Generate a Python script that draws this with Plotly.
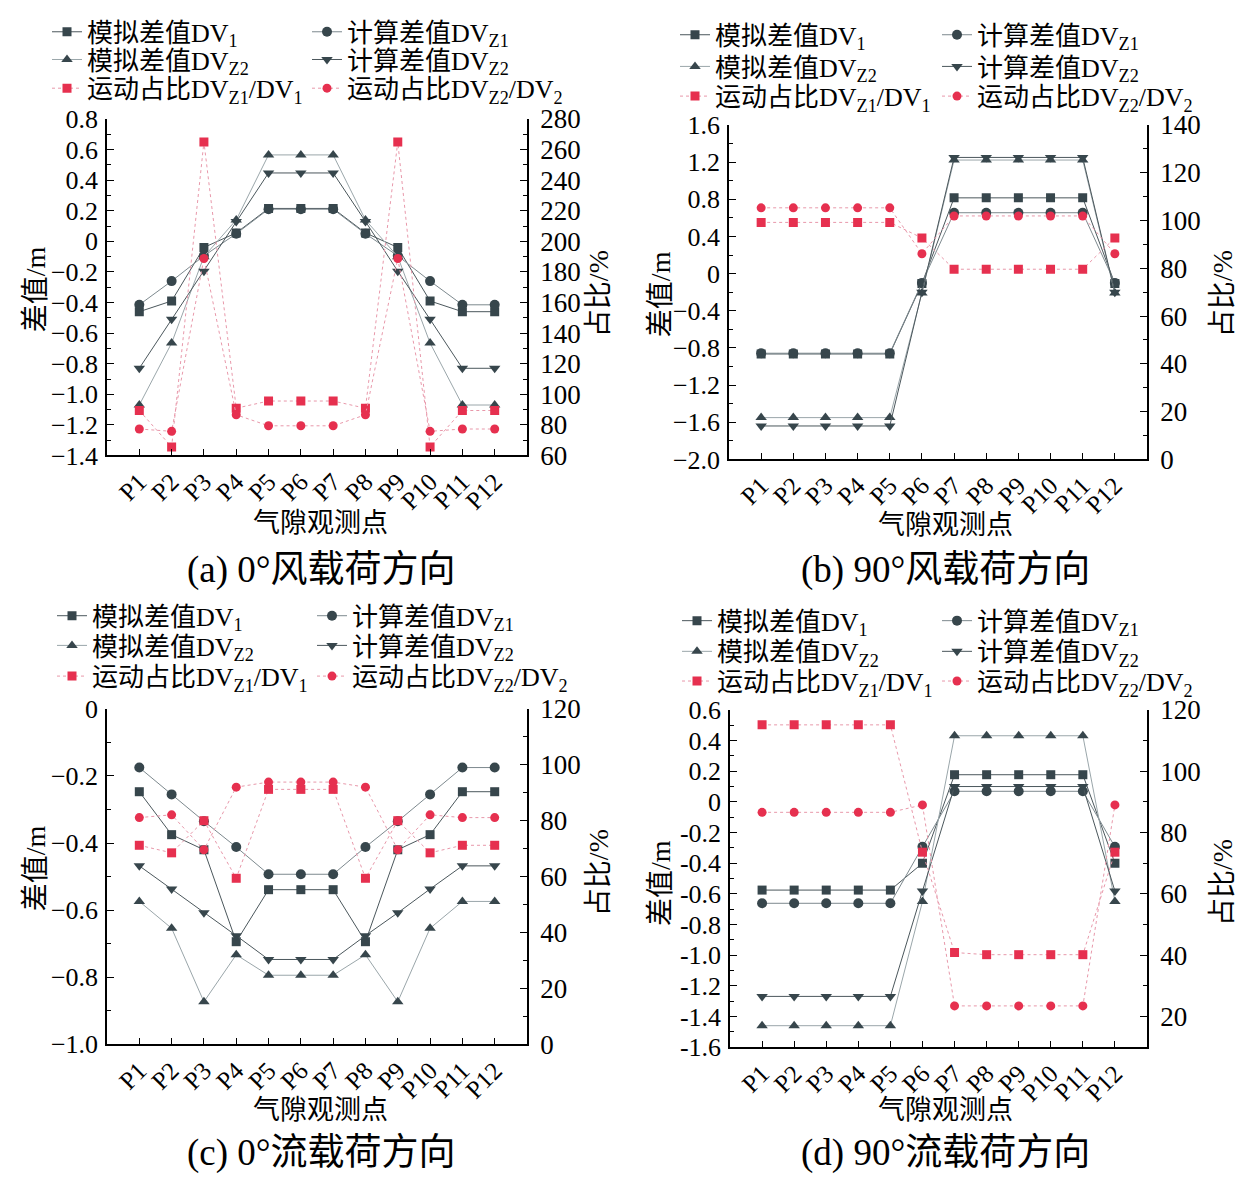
import numpy as np
import plotly.graph_objects as go

# ---------------- data ----------------
points = ["P1", "P2", "P3", "P4", "P5", "P6", "P7", "P8", "P9", "P10", "P11", "P12"]
xpos = [1, 2, 3, 4, 5, 6, 7, 8, 9, 10, 11, 12]

names = ["模拟差值DV<sub>1</sub>", "计算差值DV<sub>Z1</sub>", "模拟差值DV<sub>Z2</sub>",
         "计算差值DV<sub>Z2</sub>", "运动占比DV<sub>Z1</sub>/DV<sub>1</sub>",
         "运动占比DV<sub>Z2</sub>/DV<sub>2</sub>"]

# (a) 0° wind load
a_dv1 = [-0.46, -0.39, -0.04, 0.055, 0.215, 0.215, 0.215, 0.055, -0.04, -0.39, -0.46, -0.46]
a_dvz1 = [-0.415, -0.26, -0.095, 0.05, 0.21, 0.21, 0.21, 0.05, -0.095, -0.26, -0.415, -0.415]
a_dvz2_sim = [-1.07, -0.665, -0.1, 0.14, 0.565, 0.565, 0.565, 0.14, -0.1, -0.665, -1.07, -1.07]
a_dvz2_calc = [-0.83, -0.51, -0.195, 0.13, 0.447, 0.447, 0.447, 0.13, -0.195, -0.51, -0.83, -0.83]
a_r1 = [89.4, 65.6, 265.0, 90.9, 95.6, 95.6, 95.6, 90.9, 265.0, 65.6, 89.4, 89.4]
a_r2 = [77.3, 75.8, 188.8, 86.6, 79.4, 79.4, 79.4, 86.6, 188.8, 75.8, 77.3, 77.3]

# (b) 90° wind load
b_dv1 = [-0.865, -0.865, -0.865, -0.865, -0.865, -0.108, 0.815, 0.815, 0.815, 0.815, 0.815, -0.108]
b_dvz1 = [-0.857, -0.857, -0.857, -0.857, -0.857, -0.10, 0.655, 0.655, 0.655, 0.655, 0.655, -0.10]
b_dvz2_sim = [-1.55, -1.55, -1.55, -1.55, -1.55, -0.21, 1.222, 1.222, 1.222, 1.222, 1.222, -0.21]
b_dvz2_calc = [-1.64, -1.64, -1.64, -1.64, -1.64, -0.20, 1.25, 1.25, 1.25, 1.25, 1.25, -0.20]
b_r1 = [99.2, 99.2, 99.2, 99.2, 99.2, 92.7, 79.6, 79.6, 79.6, 79.6, 79.6, 92.7]
b_r2 = [105.3, 105.3, 105.3, 105.3, 105.3, 86.1, 101.9, 101.9, 101.9, 101.9, 101.9, 86.1]

# (c) 0° current load
c_dv1 = [-0.247, -0.375, -0.42, -0.694, -0.539, -0.539, -0.539, -0.694, -0.42, -0.375, -0.247, -0.247]
c_dvz1 = [-0.175, -0.255, -0.335, -0.412, -0.493, -0.493, -0.493, -0.412, -0.335, -0.255, -0.175, -0.175]
c_dvz2_sim = [-0.574, -0.654, -0.873, -0.733, -0.794, -0.794, -0.794, -0.733, -0.873, -0.654, -0.574, -0.574]
c_dvz2_calc = [-0.468, -0.537, -0.608, -0.676, -0.747, -0.747, -0.747, -0.676, -0.608, -0.537, -0.468, -0.468]
c_r1 = [71.2, 68.5, 80.0, 59.4, 91.2, 91.2, 91.2, 59.4, 80.0, 68.5, 71.2, 71.2]
c_r2 = [81.1, 82.1, 69.6, 92.0, 93.8, 93.8, 93.8, 92.0, 69.6, 82.1, 81.1, 81.1]

# (d) 90° current load
d_dv1 = [-0.575, -0.575, -0.575, -0.575, -0.575, -0.40, 0.177, 0.177, 0.177, 0.177, 0.177, -0.40]
d_dvz1 = [-0.661, -0.661, -0.661, -0.661, -0.661, -0.293, 0.069, 0.069, 0.069, 0.069, 0.069, -0.293]
d_dvz2_sim = [-1.459, -1.459, -1.459, -1.459, -1.459, -0.65, 0.431, 0.431, 0.431, 0.431, 0.431, -0.65]
d_dvz2_calc = [-1.268, -1.268, -1.268, -1.268, -1.268, -0.581, 0.10, 0.10, 0.10, 0.10, 0.10, -0.581]
d_r1 = [115.1, 115.1, 115.1, 115.1, 115.1, 73.6, 40.9, 40.2, 40.2, 40.2, 40.2, 73.6]
d_r2 = [86.6, 86.6, 86.6, 86.6, 86.6, 89.0, 23.5, 23.5, 23.5, 23.5, 23.5, 89.0]

# axis ticks
a_lvals = [-1.4, -1.2, -1.0, -0.8, -0.6, -0.4, -0.2, 0, 0.2, 0.4, 0.6, 0.8]
a_ltext = ["−1.4", "−1.2", "−1.0", "−0.8", "−0.6", "−0.4", "−0.2", "0", "0.2", "0.4", "0.6", "0.8"]
a_rvals = [60, 80, 100, 120, 140, 160, 180, 200, 220, 240, 260, 280]
b_lvals = [-2.0, -1.6, -1.2, -0.8, -0.4, 0, 0.4, 0.8, 1.2, 1.6]
b_ltext = ["−2.0", "−1.6", "−1.2", "−0.8", "−0.4", "0", "0.4", "0.8", "1.2", "1.6"]
b_rvals = [0, 20, 40, 60, 80, 100, 120, 140]
c_lvals = [-1.0, -0.8, -0.6, -0.4, -0.2, 0]
c_ltext = ["−1.0", "−0.8", "−0.6", "−0.4", "−0.2", "0"]
c_rvals = [0, 20, 40, 60, 80, 100, 120]
d_lvals = [-1.6, -1.4, -1.2, -1.0, -0.8, -0.6, -0.4, -0.2, 0, 0.2, 0.4, 0.6]
d_ltext = ["-1.6", "-1.4", "-1.2", "-1.0", "-0.8", "-0.6", "-0.4", "-0.2", "0", "0.2", "0.4", "0.6"]
d_rvals = [20, 40, 60, 80, 100, 120]

captions = ["(a) 0°风载荷方向", "(b) 90°风载荷方向", "(c) 0°流载荷方向", "(d) 90°流载荷方向"]

# ---------------- style ----------------
OFF = 8                      # page body margin
W, H = 1260 - 2 * OFF, 1183 - 2 * OFF   # keep the page free of scrollbars
FONT = "Liberation Serif, Noto Sans CJK SC, serif"
DARK = "#37464c"
RED = "#e6304f"
PINK = "#e898aa"
LINE_COLORS = ["#4b575c", "#7d898e", "#9aa6aa", "#4b575c"]
SYMBOLS = ["square", "circle", "triangle-up", "triangle-down"]
SIZES = [9, 10, 10, 10]

# screen-pixel geometry of each panel: (left, right, top, bottom)
panels = [(107, 527, 108, 448), (729, 1147, 114, 452), (107, 527, 704, 1043), (730, 1147, 705, 1046)]
# legend text-start columns and row centres (screen px)
leg_cols = [(88, 348), (716, 978), (93, 353), (718, 978)]
leg_rows = [(20, 48, 77), (23, 55, 85), (610, 640, 671), (615, 646, 676)]
ytitle_pos = [(35, 280), (660, 285), (35, 865), (660, 880)]
rtitle_pos = [(598, 285), (1222, 285), (598, 870), (1222, 880)]
xtitle_pos = [(320, 516), (945, 518), (320, 1109), (945, 1109)]
cap_pos = [(322, 564), (945, 564), (322, 1153), (945, 1153)]

def px(x):
    return (x - OFF) / W

def py(y):
    return 1 - (y - OFF) / H

fig = go.Figure()

datasets = [
    (a_dv1, a_dvz1, a_dvz2_sim, a_dvz2_calc, a_r1, a_r2),
    (b_dv1, b_dvz1, b_dvz2_sim, b_dvz2_calc, b_r1, b_r2),
    (c_dv1, c_dvz1, c_dvz2_sim, c_dvz2_calc, c_r1, c_r2),
    (d_dv1, d_dvz1, d_dvz2_sim, d_dvz2_calc, d_r1, d_r2),
]
left_ticks = [(a_lvals, a_ltext, [-1.4, 0.8], 0.1), (b_lvals, b_ltext, [-2.0, 1.6], 0.2),
              (c_lvals, c_ltext, [-1.0, 0.0], 0.1), (d_lvals, d_ltext, [-1.6, 0.6], 0.1)]
right_ticks = [(a_rvals, [60, 280], 10), (b_rvals, [0, 140], 10),
               (c_rvals, [0, 120], 10), (d_rvals, [10, 120], 10)]

annotations = []
layout = dict(width=W, height=H, margin=dict(l=0, r=0, t=0, b=0),
              paper_bgcolor="white", plot_bgcolor="white", template="none",
              font=dict(family=FONT, size=24, color="black"), showlegend=True)

leg_count = 0
for i, ds in enumerate(datasets):
    n = i + 1
    xa = "x" if n == 1 else f"x{n}"
    yl_n = 2 * i + 1
    yr_n = 2 * i + 2
    yl = "y" if yl_n == 1 else f"y{yl_n}"
    yr = f"y{yr_n}"
    L, R, T, B = panels[i]

    for k in range(6):
        leg_count += 1
        lg = "legend" if leg_count == 1 else f"legend{leg_count}"
        col = k % 2
        row = k // 2
        if k < 4:
            tr = go.Scatter(
                x=xpos, y=ds[k], mode="lines+markers", name=names[k],
                line=dict(color=LINE_COLORS[k], width=1),
                marker=dict(symbol=SYMBOLS[k], size=SIZES[k], color=DARK),
                xaxis=xa, yaxis=yl, legend=lg)
        else:
            tr = go.Scatter(
                x=xpos, y=ds[k], mode="lines+markers", name=names[k],
                line=dict(color=PINK, width=1, dash="dot"),
                marker=dict(symbol="square" if k == 4 else "circle", size=9, color=RED),
                xaxis=xa, yaxis=yr, legend=lg)
        fig.add_trace(tr)
        layout[lg] = dict(x=px(leg_cols[i][col] - 41), y=py(leg_rows[i][row]),
                          xanchor="left", yanchor="middle",
                          bgcolor="rgba(0,0,0,0)", borderwidth=0,
                          font=dict(family=FONT, size=26, color="black"),
                          itemwidth=30)

    xkey = "xaxis" if n == 1 else f"xaxis{n}"
    ylkey = "yaxis" if yl_n == 1 else f"yaxis{yl_n}"
    yrkey = f"yaxis{yr_n}"
    lv, lt, lrange, lminor = left_ticks[i]
    rv, rrange, rminor = right_ticks[i]

    layout[xkey] = dict(domain=[px(L), px(R)], anchor=yl, range=[0, 13],
                        tickmode="array", tickvals=xpos, ticktext=points, tickangle=-45,
                        ticks="inside", ticklen=7, tickwidth=1.3, tickcolor="black",
                        showline=True, linecolor="black", linewidth=1.5,
                        showgrid=False, zeroline=False, automargin=False,
                        tickfont=dict(family=FONT, size=25))
    layout[ylkey] = dict(domain=[py(B), py(T)], anchor=xa, range=lrange,
                         tickmode="array", tickvals=lv, ticktext=lt,
                         ticks="inside", ticklen=7, tickwidth=1.3, tickcolor="black",
                         minor=dict(tickvals=list(np.round(np.arange(lrange[0], lrange[1] + 1e-9, lminor), 3)),
                                    ticks="inside", ticklen=4, tickcolor="black", tickwidth=1.2),
                         showline=True, linecolor="black", linewidth=1.5,
                         showgrid=False, zeroline=False, automargin=False,
                         ticklabelstandoff=2,
                         tickfont=dict(family=FONT, size=26))
    layout[yrkey] = dict(overlaying=yl, side="right", anchor=xa, range=rrange,
                         tickmode="array", tickvals=rv, ticktext=[str(v) for v in rv],
                         ticks="inside", ticklen=7, tickwidth=1.3, tickcolor="black",
                         minor=dict(tickvals=list(np.arange(rrange[0], rrange[1] + 1e-9, rminor)),
                                    ticks="inside", ticklen=4, tickcolor="black", tickwidth=1.2),
                         showline=True, linecolor="black", linewidth=1.5,
                         showgrid=False, zeroline=False, automargin=False,
                         ticklabelstandoff=6,
                         tickfont=dict(family=FONT, size=27))

    common = dict(xref="paper", yref="paper", showarrow=False, xanchor="center", yanchor="middle")
    annotations += [
        dict(text="差值/m", x=px(ytitle_pos[i][0]), y=py(ytitle_pos[i][1]),
             textangle=-90, font=dict(family=FONT, size=28), **common),
        dict(text="占比/%", x=px(rtitle_pos[i][0]), y=py(rtitle_pos[i][1]),
             textangle=-90, font=dict(family=FONT, size=28), **common),
        dict(text="气隙观测点", x=px(xtitle_pos[i][0]), y=py(xtitle_pos[i][1]),
             font=dict(family=FONT, size=27), **common),
        dict(text=captions[i], x=px(cap_pos[i][0]), y=py(cap_pos[i][1]),
             font=dict(family=FONT, size=37), **common),
    ]

layout["annotations"] = annotations
fig.update_layout(**layout)
fig.write_html("out.html")
